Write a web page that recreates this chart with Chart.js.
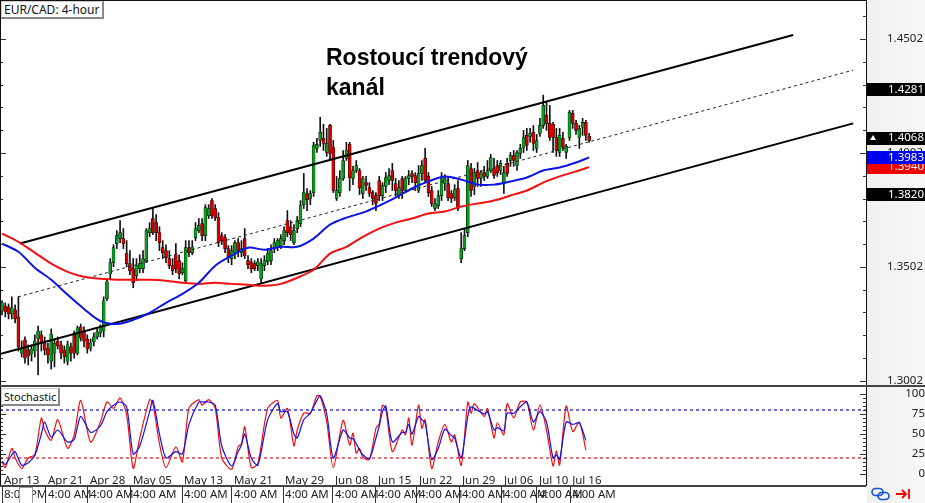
<!DOCTYPE html>
<html>
<head>
<meta charset="utf-8">
<title>EUR/CAD</title>
<script src="https://cdn.jsdelivr.net/npm/chart.js@4/dist/chart.umd.min.js"></script>
<style>
html, body { margin: 0; padding: 0; background: #fff; overflow: hidden; }
#wrap { position: relative; width: 925px; height: 503px; overflow: hidden; font-family: "Noto Sans", sans-serif; }
#panel { position: absolute; left: 867px; top: 0; width: 58px; height: 503px; background: linear-gradient(to right, #f0f0ee, #f7f7f5); }
canvas { position: absolute; left: 0; }
#priceChart { top: 0; }
#stochChart { top: 387px; }
.box { position: absolute; left: 1px; height: 15px; line-height: 15px; padding: 0 2px; font-size: 12px; color: #111; background: #fff; border-right: 2px solid #888; border-bottom: 2px solid #888; border-top: 1px solid #ccc; border-left: 1px solid #ccc; white-space: nowrap; }
#note { position: absolute; left: 326px; top: 42px; font: bold 23px/30px "Liberation Sans", Arial, sans-serif; color: #000; }
#scrollBox { position: absolute; left: 19px; top: 487px; width: 12px; height: 15px; background: #fff; border: 1px solid #999; }
#icons { position: absolute; left: 870px; top: 487px; }
</style>
</head>
<body>
<div id="wrap">
  <div id="panel"></div>
  <canvas id="priceChart" width="925" height="387"></canvas>
  <canvas id="stochChart" width="925" height="116"></canvas>
  <div class="box" style="top:1px">EUR/CAD: 4-hour</div>
  <div class="box" style="top:388px;font-size:11px">Stochastic</div>
  <div id="note">Rostoucí trendový<br>kanál</div>
  <div id="scrollBox"></div>
  <svg id="icons" width="50" height="15" viewBox="0 0 50 15">
    <g fill="none" stroke="#1550d8" stroke-width="1.6">
      <rect x="2" y="1.5" width="11" height="7" rx="3.5"/>
      <rect x="8" y="5.5" width="11" height="7" rx="3.5"/>
    </g>
    <g fill="none" stroke="#f00000" stroke-width="1.8">
      <path d="M26 7H36M32 3l4 4-4 4M39 2v10"/>
    </g>
  </svg>
</div>
<script>
// bars are read left to right off the picture
const opens = [
  1.3308,1.3330,1.3326,1.3295,1.3313,1.3282,1.3123,1.3181,1.3137,1.3119,
  1.3132,1.3185,1.3203,1.3167,1.3145,1.3088,1.3123,1.3176,1.3159,1.3137,
  1.3088,1.3150,1.3207,1.3123,1.3238,1.3220,1.3185,1.3145,1.3172,1.3194,
  1.3212,1.3220,1.3361,1.3471,1.3520,1.3604,1.3626,1.3626,1.3560,1.3516,
  1.3494,1.3463,1.3494,1.3494,1.3529,1.3652,1.3714,1.3696,1.3652,1.3586,
  1.3573,1.3538,1.3507,1.3555,1.3529,1.3476,1.3441,1.3586,1.3564,1.3630,
  1.3661,1.3692,1.3639,1.3727,1.3793,1.3758,1.3718,1.3639,1.3630,1.3582,
  1.3538,1.3564,1.3608,1.3564,1.3626,1.3529,1.3520,1.3516,1.3507,1.3449,
  1.3507,1.3524,1.3529,1.3582,1.3586,1.3595,1.3617,1.3705,1.3678,1.3608,
  1.3670,1.3692,1.3775,1.3824,1.3802,1.3828,1.4022,1.4057,1.4066,1.4004,
  1.4123,1.4026,1.3802,1.3828,1.3890,1.3978,1.4040,1.3890,1.3925,1.3925,
  1.3824,1.3872,1.3850,1.3828,1.3815,1.3881,1.3815,1.3855,1.3881,1.3925,
  1.3868,1.3815,1.3890,1.3837,1.3890,1.3912,1.3903,1.3837,1.3912,1.3978,
  1.3899,1.3837,1.3758,1.3771,1.3815,1.3868,1.3868,1.3824,1.3806,1.3846,
  1.3538,1.3582,1.3652,1.3934,1.3855,1.3925,1.3890,1.3916,1.3899,1.3925,
  1.3934,1.3947,1.3925,1.3868,1.3956,1.3969,1.3991,1.3947,1.4000,1.4026,
  1.4079,1.4075,1.4093,1.4022,1.4088,1.4123,1.4167,1.4132,1.4128,1.4070,
  1.4004,1.4066,1.4004,1.4070,1.4176,1.4132,1.4070,1.4115,1.4137,1.4075
];
const closes = [
  1.3344,1.3304,1.3295,1.3322,1.3273,1.3150,1.3145,1.3101,1.3110,1.3141,
  1.3176,1.3220,1.3167,1.3137,1.3115,1.3207,1.3167,1.3154,1.3123,1.3106,
  1.3159,1.3123,1.3123,1.3234,1.3189,1.3176,1.3141,1.3167,1.3194,1.3216,
  1.3234,1.3353,1.3436,1.3520,1.3586,1.3639,1.3652,1.3604,1.3516,1.3485,
  1.3432,1.3507,1.3516,1.3538,1.3661,1.3670,1.3652,1.3652,1.3608,1.3564,
  1.3542,1.3507,1.3485,1.3494,1.3471,1.3494,1.3586,1.3564,1.3590,1.3670,
  1.3683,1.3639,1.3762,1.3758,1.3727,1.3718,1.3608,1.3617,1.3582,1.3542,
  1.3573,1.3608,1.3573,1.3582,1.3551,1.3511,1.3494,1.3494,1.3524,1.3516,
  1.3529,1.3560,1.3573,1.3608,1.3617,1.3626,1.3661,1.3652,1.3643,1.3661,
  1.3705,1.3771,1.3828,1.3797,1.3824,1.4035,1.4040,1.4093,1.4044,1.4044,
  1.4000,1.3837,1.3837,1.3890,1.3969,1.4013,1.3894,1.3925,1.3947,1.3850,
  1.3890,1.3859,1.3824,1.3802,1.3780,1.3815,1.3859,1.3894,1.3903,1.3881,
  1.3837,1.3850,1.3837,1.3890,1.3903,1.3899,1.3872,1.3912,1.3947,1.3881,
  1.3828,1.3780,1.3780,1.3815,1.3890,1.3890,1.3806,1.3802,1.3841,1.3758,
  1.3582,1.3639,1.3947,1.3837,1.3916,1.3890,1.3916,1.3899,1.3925,1.3982,
  1.3903,1.3916,1.3956,1.3916,1.3912,1.3991,1.3969,1.4004,1.4022,1.4070,
  1.4035,1.4088,1.4044,1.4057,1.4123,1.4211,1.4132,1.4070,1.4070,1.4013,
  1.4079,1.4026,1.4031,1.4181,1.4132,1.4101,1.4110,1.4137,1.4079,1.4057
];
const highs = [
  1.3353,1.3344,1.3339,1.3370,1.3335,1.3370,1.3176,1.3194,1.3159,1.3159,
  1.3203,1.3242,1.3220,1.3194,1.3167,1.3229,1.3185,1.3194,1.3176,1.3154,
  1.3176,1.3167,1.3220,1.3242,1.3251,1.3238,1.3203,1.3185,1.3212,1.3229,
  1.3247,1.3370,1.3449,1.3538,1.3599,1.3661,1.3705,1.3670,1.3617,1.3573,
  1.3538,1.3538,1.3555,1.3573,1.3670,1.3696,1.3758,1.3731,1.3678,1.3617,
  1.3599,1.3573,1.3538,1.3604,1.3555,1.3520,1.3617,1.3617,1.3617,1.3696,
  1.3714,1.3714,1.3775,1.3775,1.3802,1.3775,1.3740,1.3652,1.3643,1.3595,
  1.3595,1.3617,1.3626,1.3617,1.3670,1.3551,1.3538,1.3529,1.3538,1.3538,
  1.3551,1.3582,1.3599,1.3626,1.3626,1.3643,1.3678,1.3749,1.3705,1.3687,
  1.3723,1.3793,1.3912,1.3846,1.3837,1.4049,1.4066,1.4159,1.4128,1.4110,
  1.4128,1.4057,1.3899,1.3925,1.4013,1.4049,1.4049,1.3943,1.3969,1.3934,
  1.3899,1.3899,1.3872,1.3837,1.3828,1.3899,1.3872,1.3916,1.3934,1.3956,
  1.3890,1.3881,1.3899,1.3899,1.3925,1.3925,1.3916,1.3947,1.3969,1.4022,
  1.3916,1.3855,1.3802,1.3837,1.3916,1.3907,1.3899,1.3837,1.3863,1.3881,
  1.3652,1.3670,1.3969,1.3956,1.3934,1.3960,1.3925,1.3943,1.3969,1.3996,
  1.3978,1.3969,1.3969,1.3943,1.3978,1.4004,1.4013,1.4013,1.4040,1.4101,
  1.4110,1.4110,1.4123,1.4084,1.4154,1.4256,1.4225,1.4211,1.4137,1.4110,
  1.4110,1.4093,1.4040,1.4189,1.4189,1.4145,1.4123,1.4154,1.4145,1.4088
];
const lows = [
  1.3291,1.3282,1.3273,1.3273,1.3256,1.3132,1.3106,1.3079,1.3071,1.3088,
  1.3106,1.3027,1.3132,1.3115,1.3079,1.3053,1.3062,1.3141,1.3097,1.3079,
  1.3071,1.3088,1.3101,1.3115,1.3176,1.3150,1.3123,1.3132,1.3154,1.3185,
  1.3194,1.3194,1.3353,1.3449,1.3502,1.3582,1.3608,1.3582,1.3502,1.3467,
  1.3410,1.3441,1.3476,1.3476,1.3520,1.3634,1.3643,1.3617,1.3573,1.3538,
  1.3520,1.3494,1.3467,1.3476,1.3449,1.3467,1.3432,1.3546,1.3555,1.3617,
  1.3652,1.3617,1.3617,1.3714,1.3714,1.3705,1.3590,1.3599,1.3564,1.3520,
  1.3511,1.3538,1.3546,1.3546,1.3538,1.3494,1.3476,1.3485,1.3485,1.3432,
  1.3485,1.3511,1.3511,1.3564,1.3573,1.3582,1.3599,1.3634,1.3617,1.3599,
  1.3652,1.3678,1.3758,1.3749,1.3775,1.3811,1.4004,1.4031,1.4013,1.3987,
  1.3969,1.3828,1.3793,1.3811,1.3881,1.3969,1.3837,1.3863,1.3916,1.3819,
  1.3802,1.3837,1.3811,1.3775,1.3749,1.3793,1.3793,1.3828,1.3863,1.3837,
  1.3811,1.3802,1.3802,1.3828,1.3863,1.3872,1.3837,1.3828,1.3881,1.3872,
  1.3811,1.3767,1.3749,1.3758,1.3793,1.3837,1.3793,1.3784,1.3793,1.3749,
  1.3520,1.3573,1.3634,1.3811,1.3819,1.3855,1.3855,1.3881,1.3890,1.3916,
  1.3890,1.3899,1.3907,1.3824,1.3899,1.3943,1.3943,1.3925,1.3978,1.4004,
  1.4013,1.4049,1.4013,1.4004,1.4075,1.4110,1.4101,1.4057,1.4004,1.3987,
  1.3987,1.4013,1.3978,1.4057,1.4110,1.4084,1.4022,1.4079,1.4057,1.4049
];

// moving averages, read every fifth bar
const maBars = [0,5,10,15,20,25,30,35,40,45,50,55,60,65,70,75,80,85,90,95,100,105,110,115,120,125,130,135,140,145,150,155,160,165,170,175,179];
const maBlue = [1.3604,1.3568,1.3498,1.3445,1.3379,1.3317,1.3264,1.3251,1.3269,1.3300,1.3344,1.3383,1.3432,1.3507,1.3551,1.3586,1.3577,1.3590,1.3590,1.3626,1.3687,1.3718,1.3740,1.3771,1.3806,1.3846,1.3877,1.3899,1.3885,1.3863,1.3863,1.3877,1.3894,1.3925,1.3938,1.3960,1.3983];
const maRed = [1.3648,1.3612,1.3564,1.3516,1.3480,1.3458,1.3449,1.3445,1.3445,1.3445,1.3441,1.3432,1.3427,1.3432,1.3427,1.3423,1.3419,1.3427,1.3454,1.3489,1.3560,1.3590,1.3634,1.3670,1.3696,1.3714,1.3736,1.3745,1.3767,1.3780,1.3793,1.3815,1.3837,1.3872,1.3899,1.3921,1.3940];

// channel lines as [bar, price] ends
const channelUpper = [[5.5, 1.3604], [241.2, 1.4520]];
const channelMiddle = [[4.9, 1.3370], [259.5, 1.4366]];
const channelLower = [[-0.6, 1.3119], [259.5, 1.4132]];

const priceTicks = [1.4602,1.4502,1.4402,1.4302,1.4202,1.4102,1.4002,1.3902,1.3802,1.3702,1.3602,1.3502,1.3402,1.3302,1.3202,1.3102,1.3002];
const priceLabels = [1.4502, 1.4002, 1.3502, 1.3002];
const tagPrices = [1.4281, 1.4068, 1.3820, 1.3940, 1.3983];

const stochBars = [0,1,3,4,6,8,10,12,13,15,17,20,22,24,27,30,32,34,36,38,40,42,45,46,48,50,53,55,57,60,61,63,65,67,70,72,73,74,76,78,81,84,85,87,89,90,92,94,96,97,99,101,104,106,107,108,109,110,112,114,115,116,117,119,122,123,124,125,127,128,129,131,133,135,137,138,140,142,143,144,147,148,150,151,153,154,156,158,160,162,164,166,168,169,170,172,174,176,178];
const stochRed = [15,8,32,20,7,20,24,70,55,42,68,32,49,92,40,65,90,82,95,74,7,45,93,88,38,8,34,15,82,93,86,93,82,20,6,34,38,59,8,13,82,92,70,82,35,55,76,76,98,97,65,8,67,36,51,26,32,21,18,57,63,86,82,28,55,49,70,36,86,57,68,7,40,62,40,49,11,90,76,88,72,82,45,64,49,88,70,90,90,55,86,55,10,29,11,85,53,65,30];
const stochBlue = [16,12,24,28,11,14,23,50,65,46,55,40,43,72,52,60,78,86,90,84,25,35,78,92,50,20,28,25,62,90,90,90,86,35,10,28,36,50,20,11,68,88,78,78,50,45,68,76,92,98,75,20,55,45,44,38,30,24,19,45,60,78,85,40,52,52,62,50,72,68,64,18,32,56,48,45,20,72,84,82,75,78,55,58,54,76,76,84,90,65,78,65,20,24,18,65,62,64,42];
const stochLevels = [80, 20];
const stochTicks = [100,95,90,85,80,75,70,65,60,55,50,45,40,35,30,25,20,15,10,5,0];
const stochLabels = [100, 75, 50, 25, 0];

const timeBars = [0,13.4,26.2,39.3,54.9,70.1,85.7,100.9,114,126.5,139.6,152.4,163.1,173.2];
const timeLabels = ["8:00 PM","4:00 AM","4:00 AM","4:00 AM","4:00 AM","4:00 AM","4:00 AM","4:00 AM","4:00 AM","4:00 AM","4:00 AM","4:00 AM","4:00 AM","4:00 AM"];
const dateLabels = ["Apr 13","Apr 21","Apr 28","May 05","May 13","May 21","May 29","Jun 08","Jun 15","Jun 22","Jun 29","Jul 06","Jul 10","Jul 16"];

const BAR_MIN = -0.61;
const BAR_MAX = 263.4;
const UP_COLOR = "#0a9b1e";
const DOWN_COLOR = "#d40000";
const TEXT_COLOR = "#222";

Chart.defaults.font.family = "'Noto Sans', sans-serif";
Chart.defaults.font.size = 11.5;
Chart.defaults.color = TEXT_COLOR;
Chart.defaults.animation = false;
Chart.defaults.responsive = false;
Chart.defaults.devicePixelRatio = 1;

function toPoints(xs, ys) {
  return xs.map((x, i) => ({ x: x, y: ys[i] }));
}

function lineSet(points, color, width, dash, tension) {
  return {
    type: "line",
    data: points.map(p => (Array.isArray(p) ? { x: p[0], y: p[1] } : p)),
    borderColor: color,
    borderWidth: width,
    borderDash: dash || [],
    pointRadius: 0,
    fill: false,
    tension: tension || 0,
    order: 0
  };
}

// the tick padding would otherwise shrink the plot area
function fitValueAxis(s) {
  s.width = 59;
  s.paddingTop = 0;
  s.paddingBottom = 0;
}

// short ticks inside the plot on both sides, plus the frame
const frameTicks = {
  id: "frameTicks",
  afterDraw(chart) {
    const area = chart.chartArea;
    const scale = chart.scales.y;
    const ctx = chart.ctx;
    ctx.save();
    ctx.strokeStyle = "#333";
    ctx.lineWidth = 1;
    ctx.beginPath();
    scale.ticks.forEach(t => {
      const y = Math.round(scale.getPixelForValue(t.value)) + 0.5;
      const len = t.label ? 6 : 3;
      ctx.moveTo(area.left, y);
      ctx.lineTo(area.left + len, y);
      ctx.moveTo(area.right, y);
      ctx.lineTo(area.right - len, y);
    });
    ctx.stroke();
    ctx.strokeStyle = "#111";
    ctx.beginPath();
    ctx.moveTo(0.5, area.top);
    ctx.lineTo(0.5, area.bottom);
    ctx.moveTo(area.right + 0.5, area.top);
    ctx.lineTo(area.right + 0.5, area.bottom);
    ctx.stroke();
    ctx.lineWidth = 2;
    ctx.strokeStyle = "#444";
    ctx.beginPath();
    const isPrice = chart.canvas.id === "priceChart";
    ctx.moveTo(0, isPrice ? 386 : 99);
    ctx.lineTo(isPrice ? 925 : area.right, isPrice ? 386 : 99);
    ctx.stroke();
    if (isPrice) {
      ctx.lineWidth = 1;
      ctx.strokeStyle = "#111";
      ctx.beginPath();
      ctx.moveTo(0, 0.5);
      ctx.lineTo(area.right, 0.5);
      ctx.stroke();
    }
    ctx.restore();
  }
};

// price tags on the axis
const priceTags = {
  id: "priceTags",
  afterDraw(chart) {
    const scale = chart.scales.y;
    const ctx = chart.ctx;
    const left = chart.chartArea.right + 1;
    ctx.save();
    ctx.font = Chart.defaults.font.size + "px 'Noto Sans', sans-serif";
    ctx.textBaseline = "middle";
    tagPrices.forEach(p => {
      let fill = "#000";
      if (p === 1.3983) fill = "#0000f0";
      if (p === 1.3940) fill = "#f00000";
      const y = scale.getPixelForValue(p);
      ctx.fillStyle = fill;
      ctx.fillRect(left, Math.round(y) - 6, 925 - left, 13);
      ctx.fillStyle = "#fff";
      ctx.fillText(p.toFixed(4), 888, y);
      if (p === 1.4068) {
        ctx.beginPath();
        ctx.moveTo(870, y + 2);
        ctx.lineTo(873, y - 3);
        ctx.lineTo(876, y + 2);
        ctx.closePath();
        ctx.fill();
      }
    });
    ctx.restore();
  }
};

new Chart(document.getElementById("priceChart"), {
  type: "bar",
  data: {
    datasets: [
      lineSet(toPoints(maBars, maBlue), "#0a14e6", 2, null, 0.3),
      lineSet(toPoints(maBars, maRed), "#f01010", 2, null, 0.3),
      lineSet(channelUpper, "#000", 2),
      lineSet(channelMiddle, "#222", 1, [3, 3]),
      lineSet(channelLower, "#000", 2),
      {
        data: opens.map((o, i) => ({ x: i, y: [o, closes[i]] })),
        backgroundColor: opens.map((o, i) => (closes[i] >= o ? UP_COLOR : DOWN_COLOR)),
        borderColor: "#000",
        borderWidth: 0.5,
        borderSkipped: false,
        barThickness: 3,
        grouped: false,
        order: 1
      },
      {
        data: lows.map((l, i) => ({ x: i, y: [l, highs[i]] })),
        backgroundColor: "#111",
        barThickness: 1,
        grouped: false,
        order: 2
      }
    ]
  },
  options: {
    layout: { padding: 0 },
    plugins: { legend: { display: false }, tooltip: { enabled: false } },
    scales: {
      x: { type: "linear", min: BAR_MIN, max: BAR_MAX, offset: false, display: false },
      y: {
        position: "right",
        min: 1.2974,
        max: 1.4674,
        grid: { display: false, drawTicks: false },
        border: { display: false },
        afterFit: fitValueAxis,
        afterBuildTicks: s => { s.ticks = priceTicks.map(v => ({ value: v })); },
        ticks: {
          autoSkip: false,
          padding: 21,
          callback: v => (priceLabels.includes(v) ? v.toFixed(4) : "")
        }
      }
    }
  },
  plugins: [frameTicks, priceTags]
});

new Chart(document.getElementById("stochChart"), {
  type: "line",
  data: {
    datasets: [
      lineSet(toPoints(stochBars, stochBlue), "#1010f0", 1.2, null, 0.25),
      lineSet(toPoints(stochBars, stochRed), "#f01010", 1.2, null, 0.25),
      lineSet([[BAR_MIN, stochLevels[0]], [BAR_MAX, stochLevels[0]]], "#4a4ad8", 1.6, [3, 3]),
      lineSet([[BAR_MIN, stochLevels[1]], [BAR_MAX, stochLevels[1]]], "#e05050", 1.6, [3, 3])
    ]
  },
  options: {
    layout: { padding: 0 },
    plugins: { legend: { display: false }, tooltip: { enabled: false } },
    scales: {
      x: {
        type: "linear",
        min: BAR_MIN,
        max: BAR_MAX,
        offset: false,
        afterFit: s => { s.height = 17; s.paddingLeft = 0; s.paddingRight = 0; },
        afterBuildTicks: s => { s.ticks = timeBars.map(v => ({ value: v })); },
        grid: { drawOnChartArea: false, tickLength: 17, tickColor: "#333" },
        border: { display: false },
        ticks: {
          autoSkip: false,
          maxRotation: 0,
          align: "start",
          labelOffset: 2,
          padding: -15,
          callback: (v, i) => timeLabels[i]
        }
      },
      dates: {
        type: "linear",
        axis: "x",
        min: BAR_MIN,
        max: BAR_MAX,
        position: { y: 0 },
        afterFit: s => { s.paddingLeft = 0; s.paddingRight = 0; },
        afterBuildTicks: s => { s.ticks = timeBars.map(v => ({ value: v })); },
        grid: { display: false, drawTicks: false },
        border: { display: false },
        ticks: {
          autoSkip: false,
          maxRotation: 0,
          align: "start",
          labelOffset: 2,
          padding: 0,
          callback: (v, i) => dateLabels[i]
        }
      },
      y: {
        position: "right",
        min: -15,
        max: 108.75,
        grid: { display: false, drawTicks: false },
        border: { display: false },
        afterFit: fitValueAxis,
        afterBuildTicks: s => { s.ticks = stochTicks.map(v => ({ value: v })); },
        ticks: {
          autoSkip: false,
          padding: 22,
          crossAlign: "far",
          callback: v => (stochLabels.includes(v) ? String(v) : "")
        }
      }
    }
  },
  plugins: [frameTicks]
});
</script>
</body>
</html>
